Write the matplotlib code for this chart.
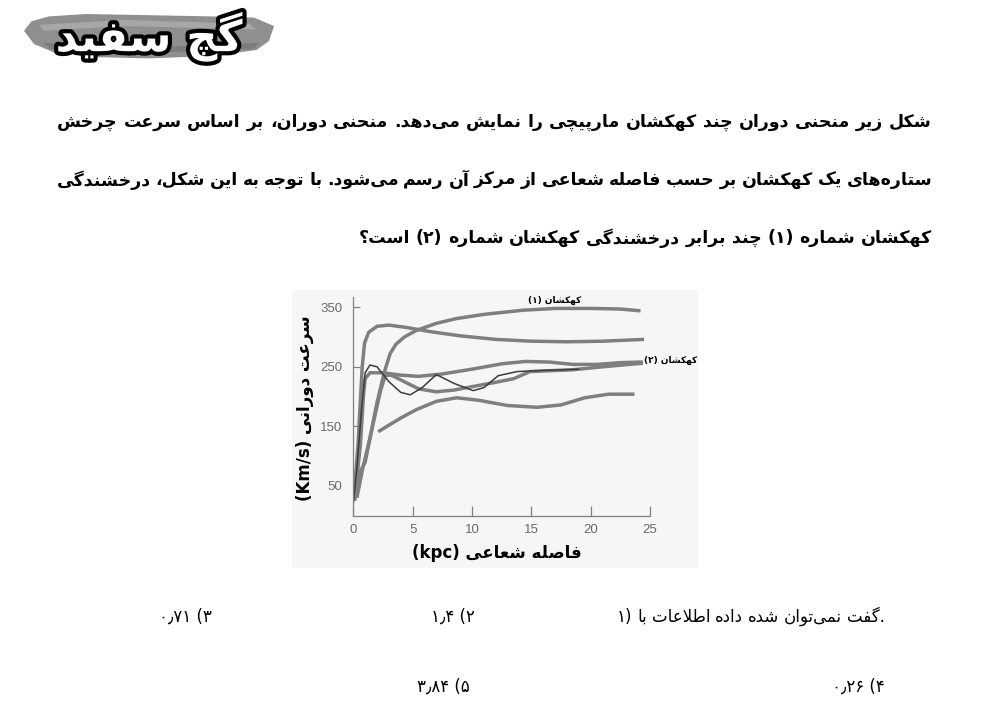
import re

import matplotlib
matplotlib.use('Agg')
from matplotlib import pyplot as plt
from matplotlib import patheffects as pe
from matplotlib.patches import Polygon, Rectangle

# ---- data ----
# galaxy 1 (top curve, ends near 350)
gal1_x = [0.1, 0.6, 1.0, 1.5, 2.0, 2.6, 3.1, 3.6, 4.3, 5.3, 7.0, 8.7, 11.0, 14.3, 17.0, 20.0, 22.5, 24.2]
gal1_y = [25, 75, 90, 140, 190, 240, 272, 288, 300, 311, 323, 331, 338, 345, 348, 348, 347, 344]
# curve peaking near 320
peak_x = [0.05, 0.4, 0.75, 0.95, 1.3, 2.0, 3.0, 4.5, 6.5, 9.0, 12.0, 15.0, 18.0, 21.0, 24.5]
peak_y = [30, 120, 250, 290, 308, 318, 320, 316, 309, 302, 296, 293, 292, 293, 296]
# galaxy 2 (labelled, ends near 258)
gal2_x = [0.2, 0.6, 0.85, 1.0, 1.4, 2.5, 4.0, 5.5, 7.5, 10.0, 12.5, 14.5, 16.5, 18.5, 20.5, 22.5, 24.4]
gal2_y = [45, 120, 200, 230, 240, 240, 236, 234, 238, 246, 255, 259, 258, 254, 254, 257, 258]
# thick curve with a dip near 7 kpc
dip_x = [0.3, 0.8, 1.4, 1.9, 2.3, 2.7, 3.2, 4.3, 5.5, 7.0, 8.5, 10.1, 12.0, 13.5, 14.9, 18.5, 21.0, 24.4]
dip_y = [30, 80, 130, 175, 210, 236, 236, 225, 213, 208, 211, 217, 224, 230, 242, 245, 250, 256]
# thin dark wavy curve
wave_x = [0.0, 0.3, 0.7, 1.0, 1.4, 2.0, 3.0, 4.0, 4.8, 5.8, 7.0, 8.5, 10.1, 11.0, 12.2, 13.8, 16.0, 19.0]
wave_y = [20, 80, 180, 240, 253, 250, 225, 207, 203, 215, 237, 222, 210, 215, 235, 242, 244, 246]
# lowest curve
low_x = [2.1, 3.0, 4.0, 5.3, 7.0, 8.7, 10.5, 13.0, 15.5, 17.5, 19.5, 21.5, 23.7]
low_y = [141, 152, 164, 178, 192, 198, 194, 185, 182, 186, 198, 204, 204]

x_ticks = [0, 5, 10, 15, 20, 25]
y_ticks = [50, 150, 250, 350]

title_logo = 'گچ سفید'
para_lines = [
    'شکل زیر منحنی دوران چند کهکشان مارپیچی را نمایش می\u200cدهد. منحنی دوران، بر اساس سرعت چرخش',
    'ستاره\u200cهای یک کهکشان بر حسب فاصله شعاعی از مرکز آن رسم می\u200cشود. با توجه به این شکل، درخشندگی',
    'کهکشان شماره (۱) چند برابر درخشندگی کهکشان شماره (۲) است؟',
]
x_label = 'فاصله شعاعی (kpc)'
y_label = 'سرعت دورانی (Km/s)'
label_g1 = 'کهکشان (۱)'
label_g2 = 'کهکشان (۲)'
# option 1 is laid out left to right word by word in the source picture
opt1_words = ['با', 'اطلاعات', 'داده', 'شده', 'نمی\u200cتوان', 'گفت']
opt2 = '۲) ۱٫۴'
opt3 = '۳) ۰٫۷۱'
opt4 = '۴) ۰٫۲۶'
opt5 = '۵) ۳٫۸۴'

# ---- tiny persian shaper (matplotlib has no arabic shaping) ----
FORMS = {
    'ا': ('\uFE8D', '\uFE8E', None, None),
    'آ': ('\uFE81', '\uFE82', None, None),
    'ب': ('\uFE8F', '\uFE90', '\uFE91', '\uFE92'),
    'پ': ('\uFB56', '\uFB57', '\uFB58', '\uFB59'),
    'ت': ('\uFE95', '\uFE96', '\uFE97', '\uFE98'),
    'ث': ('\uFE99', '\uFE9A', '\uFE9B', '\uFE9C'),
    'ج': ('\uFE9D', '\uFE9E', '\uFE9F', '\uFEA0'),
    'چ': ('\uFB7A', '\uFB7B', '\uFB7C', '\uFB7D'),
    'ح': ('\uFEA1', '\uFEA2', '\uFEA3', '\uFEA4'),
    'خ': ('\uFEA5', '\uFEA6', '\uFEA7', '\uFEA8'),
    'د': ('\uFEA9', '\uFEAA', None, None),
    'ذ': ('\uFEAB', '\uFEAC', None, None),
    'ر': ('\uFEAD', '\uFEAE', None, None),
    'ز': ('\uFEAF', '\uFEB0', None, None),
    'ژ': ('\uFB8A', '\uFB8B', None, None),
    'س': ('\uFEB1', '\uFEB2', '\uFEB3', '\uFEB4'),
    'ش': ('\uFEB5', '\uFEB6', '\uFEB7', '\uFEB8'),
    'ص': ('\uFEB9', '\uFEBA', '\uFEBB', '\uFEBC'),
    'ض': ('\uFEBD', '\uFEBE', '\uFEBF', '\uFEC0'),
    'ط': ('\uFEC1', '\uFEC2', '\uFEC3', '\uFEC4'),
    'ظ': ('\uFEC5', '\uFEC6', '\uFEC7', '\uFEC8'),
    'ع': ('\uFEC9', '\uFECA', '\uFECB', '\uFECC'),
    'غ': ('\uFECD', '\uFECE', '\uFECF', '\uFED0'),
    'ف': ('\uFED1', '\uFED2', '\uFED3', '\uFED4'),
    'ق': ('\uFED5', '\uFED6', '\uFED7', '\uFED8'),
    'ک': ('\uFB8E', '\uFB8F', '\uFB90', '\uFB91'),
    'گ': ('\uFB92', '\uFB93', '\uFB94', '\uFB95'),
    'ل': ('\uFEDD', '\uFEDE', '\uFEDF', '\uFEE0'),
    'م': ('\uFEE1', '\uFEE2', '\uFEE3', '\uFEE4'),
    'ن': ('\uFEE5', '\uFEE6', '\uFEE7', '\uFEE8'),
    'ه': ('\uFEE9', '\uFEEA', '\uFEEB', '\uFEEC'),
    'و': ('\uFEED', '\uFEEE', None, None),
    'ی': ('\uFBFC', '\uFBFD', '\uFBFE', '\uFBFF'),
}
LAM_ALEF = {'ا': ('\uFEFB', '\uFEFC'), 'آ': ('\uFEF5', '\uFEF6')}
MIRROR = {'(': ')', ')': '('}


def shape(s):
    out = []
    i = 0
    while i < len(s):
        c = s[i]
        if c not in FORMS:
            if c != '\u200c':
                out.append(c)
            i += 1
            continue
        prev = s[i - 1] if i > 0 else None
        joins_prev = prev in FORMS and FORMS[prev][2] is not None
        if c == 'ل' and i + 1 < len(s) and s[i + 1] in LAM_ALEF:
            out.append(LAM_ALEF[s[i + 1]][1 if joins_prev else 0])
            i += 2
            continue
        nxt = s[i + 1] if i + 1 < len(s) else None
        iso, fin, ini, med = FORMS[c]
        joins_next = ini is not None and nxt in FORMS
        if joins_prev and joins_next:
            out.append(med)
        elif joins_prev:
            out.append(fin)
        elif joins_next:
            out.append(ini)
        else:
            out.append(iso)
        i += 1
    return ''.join(out)


def rtl(s):
    # shape then put in visual order, keeping latin/number runs left to right
    tokens = re.findall(r'[A-Za-z0-9\u06F0-\u06F9\u066B/]+|.', shape(s), re.S)
    tokens = [MIRROR.get(t, t) for t in reversed(tokens)]
    return ''.join(tokens)


FA = ['DejaVu Sans']
W, H = 992, 708

fig = plt.figure(figsize=(W / 100, H / 100), dpi=100)
fig.patch.set_facecolor('white')


def fx(px):
    return px / W


def fy(py):
    return 1 - py / H


# ---- logo ----
lax = fig.add_axes([fx(24), fy(68), fx(250), 60 / H])
lax.set_xlim(0, 1)
lax.set_ylim(0, 1)
lax.axis('off')
lax.add_patch(Polygon([(0.0, 0.62), (0.03, 0.78), (0.1, 0.86), (0.25, 0.9), (0.5, 0.88), (0.75, 0.86),
                       (0.92, 0.84), (1.0, 0.7), (0.98, 0.45), (0.93, 0.3), (0.75, 0.2), (0.5, 0.16),
                       (0.3, 0.18), (0.12, 0.26), (0.04, 0.4)], closed=True, fc='#8f8f8f', ec='none'))
lax.add_patch(Polygon([(0.06, 0.72), (0.4, 0.8), (0.9, 0.74), (0.93, 0.64), (0.4, 0.7), (0.08, 0.62)],
                      closed=True, fc='#b8b8b8', ec='none', alpha=0.6))
lax.add_patch(Polygon([(0.08, 0.42), (0.5, 0.34), (0.94, 0.42), (0.92, 0.32), (0.5, 0.25), (0.1, 0.32)],
                      closed=True, fc='#707070', ec='none', alpha=0.6))
lax.text(0.5, 0.52, rtl(title_logo), ha='center', va='center', fontsize=31, fontweight='bold',
         family=FA, color='white',
         path_effects=[pe.Stroke(linewidth=6, foreground='black'), pe.Normal()])

# ---- question text, justified right to left ----
renderer = fig.canvas.get_renderer()


def make_words(pieces, y_px, size, weight):
    objs = [fig.text(0, fy(y_px), p, fontsize=size, fontweight=weight, family=FA,
                     ha='left', va='center') for p in pieces]
    widths = [o.get_window_extent(renderer).width for o in objs]
    return objs, widths


def place_line(text, y_px, x_right, x_left=None, size=12.5, weight='bold'):
    words = text.split(' ')
    objs, widths = make_words([rtl(w) for w in words], y_px, size, weight)
    if x_left is None or len(words) < 2:
        gap = size * 0.45
    else:
        gap = (x_right - x_left - sum(widths)) / (len(words) - 1)
    x = x_right
    for o, w in zip(objs, widths):
        x -= w
        o.set_x(fx(x))
        x -= gap


def place_ltr(pieces, y_px, x_right, size=12, weight='normal'):
    # pieces already in visual order, left to right
    objs, widths = make_words(pieces, y_px, size, weight)
    gap = size * 0.4
    x = x_right - sum(widths) - gap * (len(pieces) - 1)
    for o, w in zip(objs, widths):
        o.set_x(fx(x))
        x += w + gap


place_line(para_lines[0], 122, 932, 57)
place_line(para_lines[1], 180, 932, 57)
place_line(para_lines[2], 238, 932)

# ---- chart ----
fig.patches.append(Rectangle((fx(292), fy(568)), fx(406), 278 / H, transform=fig.transFigure,
                             fc='#f6f6f6', ec='none', zorder=-5))
ax = fig.add_axes([fx(353.3), fy(515.7), fx(296.7), 219 / H])
ax.set_facecolor('none')
ax.set_xlim(0, 25)
ax.set_ylim(0, 367.7)

grey = '#7f7f7f'
for xs, ys in [(low_x, low_y), (gal2_x, gal2_y), (dip_x, dip_y), (peak_x, peak_y), (gal1_x, gal1_y)]:
    ax.plot(xs, ys, color=grey, lw=2.5, solid_joinstyle='round', solid_capstyle='butt')
ax.plot(wave_x, wave_y, color='#3c3c3c', lw=1.1, solid_joinstyle='round')

for s in ['top', 'right']:
    ax.spines[s].set_visible(False)
for s in ['left', 'bottom']:
    ax.spines[s].set_color('#808080')
    ax.spines[s].set_linewidth(0.9)
ax.set_xticks(x_ticks)
ax.set_yticks(y_ticks)
ax.tick_params(axis='x', direction='in', length=7, width=0.9, color='#808080', labelcolor='#6a6a6a',
               labelsize=9.5, pad=6)
ax.tick_params(axis='y', direction='in', length=5, width=0.9, color='#808080', labelcolor='#6a6a6a',
               labelsize=9.5, pad=8)
for lab in ax.get_xticklabels() + ax.get_yticklabels():
    lab.set_family('Liberation Sans')

ax.text(17.0, 361, rtl(label_g1), ha='center', va='center', fontsize=6.5, fontweight='bold',
        family=FA, clip_on=False)
ax.text(24.5, 260, rtl(label_g2), ha='left', va='center', fontsize=6.5, fontweight='bold',
        family=FA, clip_on=False)

fig.text(fx(497), fy(553), rtl(x_label), ha='center', va='center', fontsize=12, fontweight='bold',
         family=FA)
fig.text(fx(305), fy(408), rtl(y_label), ha='center', va='center', fontsize=12, fontweight='bold',
         family=FA, rotation=90)

# ---- answer options ----
place_ltr(['۱)'] + [rtl(w) for w in opt1_words[:-1]] + [rtl(opt1_words[-1]) + '.'], 617, 885)
fig.text(fx(475), fy(617), rtl(opt2), ha='right', va='center', fontsize=12, family=FA)
fig.text(fx(212), fy(617), rtl(opt3), ha='right', va='center', fontsize=12, family=FA)
fig.text(fx(885), fy(687), rtl(opt4), ha='right', va='center', fontsize=12, family=FA)
fig.text(fx(470), fy(687), rtl(opt5), ha='right', va='center', fontsize=12, family=FA)

fig.savefig('out.png', dpi=100)
